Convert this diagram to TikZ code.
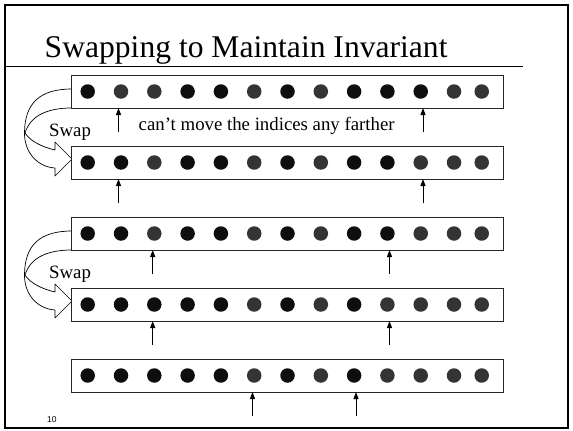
\documentclass[tikz,border=0pt]{standalone}
\usepackage{fontspec}
\setmainfont{Liberation Serif}
\newfontfamily\numfont{Liberation Sans}
\usetikzlibrary{arrows.meta}
\definecolor{dkB}{RGB}{14,14,14}
\definecolor{dkG}{RGB}{52,52,52}
\tikzset{
  rowbox/.style={draw=black!85, line width=0.9pt, minimum width=431.3pt, minimum height=33pt, inner sep=0pt, outer sep=0pt},
  dotnode/.style={circle, minimum size=14.5pt, inner sep=0pt, outer sep=0pt, draw=none},
  uparrow/.style={-{Triangle[length=7pt,width=5pt]}, line width=0.9pt, black},
  swapshape/.style={draw=black, fill=white, line width=0.7pt, line join=round},
  lbl/.style={inner sep=0pt, anchor=base west, font=\fontsize{18.8}{22}\selectfont}
}
\begin{document}
\begin{tikzpicture}[x=1pt, y=-1pt]
\useasboundingbox (0,0) rectangle (573,431);
% frame and title
\draw[line width=2pt] (5,5) rectangle (568,428);
\node[inner sep=0pt, anchor=base west, font=\fontsize{31.6}{36}\selectfont] (title) at (44.5,57) {Swapping to Maintain Invariant};
\draw[line width=1.3pt] (5,66.7) -- (523,66.7);
% swap shapes
\foreach \T in {75,217}{
  \draw[swapshape] (72,\T+14) .. controls (40,\T+14) and (25,\T+28) .. (24.5,\T+57)
    .. controls (24,\T+78) and (38,\T+92) .. (55,\T+93)
    -- (55,\T+101) -- (72,\T+84) -- (55,\T+67) -- (55,\T+75)
    .. controls (42,\T+72) and (30,\T+66) .. (25,\T+58)
    .. controls (30,\T+42) and (45,\T+33) .. (72,\T+33);
}
% rows
\foreach \r/\yc/\pat in {
  1/91.5/{dkB,dkG,dkG,dkB,dkB,dkG,dkB,dkG,dkB,dkB,dkB,dkG,dkG},
  2/162.5/{dkB,dkB,dkG,dkB,dkB,dkG,dkB,dkG,dkB,dkB,dkG,dkG,dkG},
  3/233.5/{dkB,dkB,dkG,dkB,dkB,dkG,dkB,dkG,dkB,dkB,dkG,dkG,dkG},
  4/304.5/{dkB,dkB,dkB,dkB,dkB,dkG,dkB,dkG,dkB,dkG,dkG,dkG,dkG},
  5/375.5/{dkB,dkB,dkB,dkB,dkB,dkG,dkB,dkG,dkB,dkG,dkG,dkG,dkG}}{
  \node[rowbox, fill=white] (r\r) at (287.35,\yc) {};
  \foreach \c [count=\i] in \pat {
    \pgfmathsetmacro{\dx}{\i==13 ? 481.7 : 87.7+33.3*(\i-1)}
    \node[dotnode, fill=\c] (d\r-\i) at (\dx,\yc) {};
  }
}
% pointer arrows
\foreach \r/\xa/\xb in {1/118.5/423, 2/118.5/423, 3/152.7/389.5, 4/152.7/389.5, 5/252.5/356}{
  \coordinate (pa\r) at ([yshift=-24pt]r\r.south -| \xa,0);
  \coordinate (pb\r) at ([yshift=-24pt]r\r.south -| \xb,0);
  \draw[uparrow] (pa\r) -- (pa\r |- r\r.south);
  \draw[uparrow] (pb\r) -- (pb\r |- r\r.south);
}
% labels
\node[lbl] (sw1) at (49,136) {Swap};
\node[lbl] (sw2) at (49,278) {Swap};
\node[lbl] (note) at (138.5,130) {can’t move the indices any farther};
\node[inner sep=0pt, anchor=base west, font=\numfont\fontsize{8.5}{10}\selectfont] (pg) at (47,422.5) {10};
\end{tikzpicture}
\end{document}
